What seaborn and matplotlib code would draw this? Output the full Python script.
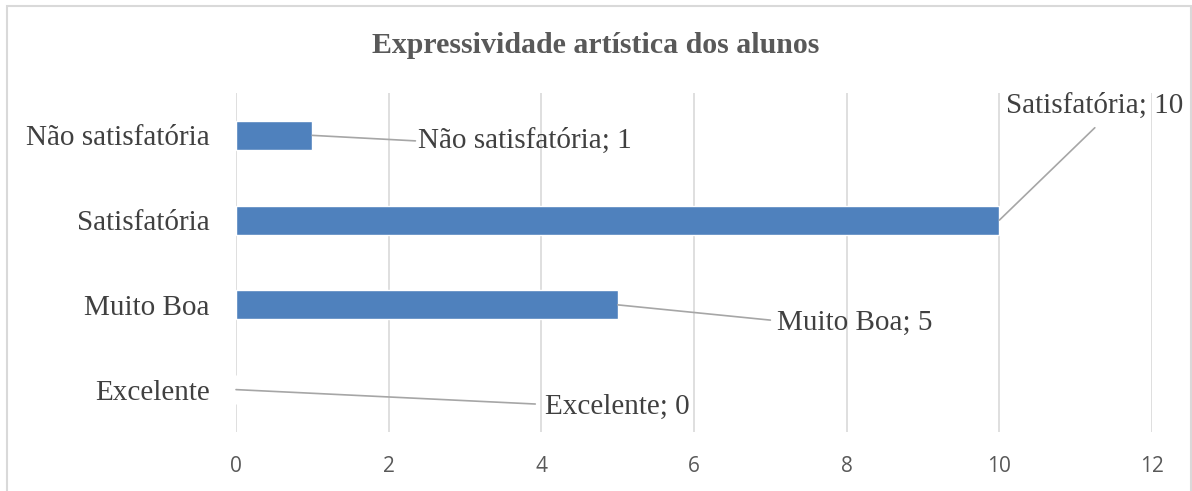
import numpy as np
import pandas as pd
import matplotlib
matplotlib.use("Agg")
import matplotlib.pyplot as plt
import seaborn as sns

categorias = ["Não satisfatória", "Satisfatória", "Muito Boa", "Excelente"]
valores = [1, 10, 5, 0]
x_ticks = [0, 2, 4, 6, 8, 10, 12]
titulo = "Expressividade artística dos alunos"

# callout label centres and leader-line ends (data units, y axis inverted)
label_pos = [(3.79, 0.07), (11.25, -0.35), (8.11, 2.21), (5.0, 3.2)]
label_anchor = [(2.35, 0.065), (11.25, -0.09), (7.0, 2.18), (3.92, 3.17)]

df = pd.DataFrame({"cat": categorias, "val": valores})

sns.set_style("white")
serif = ["Liberation Serif", "DejaVu Serif"]

fig = plt.figure(figsize=(11.92, 4.91), dpi=100)
ax = fig.add_axes([0.198, 0.1202, 0.7685, 0.6904])

sns.barplot(data=df, x="val", y="cat", orient="h", color="#4F81BD",
            width=0.34, saturation=1, ax=ax)

ax.set_xlim(0, 12)
ax.set_xticks(x_ticks)
ax.set_xlabel("")
ax.set_ylabel("")
ax.grid(axis="x", color="#D9D9D9", linewidth=1.2)
ax.set_axisbelow(True)
for s in ax.spines.values():
    s.set_visible(False)
ax.tick_params(axis="both", length=0)
ax.tick_params(axis="x", pad=17, labelsize=15, labelcolor="#595959")
for t in ax.get_xticklabels():
    t.set_family("Open Sans")
ax.tick_params(axis="y", pad=19)
for t in ax.get_yticklabels():
    t.set_family(serif)
    t.set_fontsize(21)
    t.set_color("#404040")

for i, (c, v) in enumerate(zip(categorias, valores)):
    ax.annotate("", xy=(v, i), xytext=label_anchor[i],
                arrowprops=dict(arrowstyle="-", color="#A6A6A6", lw=1.2,
                                shrinkA=0, shrinkB=0))
    ax.text(label_pos[i][0], label_pos[i][1], f"{c}; {v}", family=serif,
            fontsize=21, color="#404040", ha="center", va="center")

fig.text(0.5, 0.908, titulo, family=serif, fontsize=21.5, fontweight="bold",
         color="#595959", ha="center", va="center")

# outer chart border
border = plt.Rectangle((7 / 1192, -0.05), 1184 / 1192, 1 - 6 / 491 + 0.05,
                       transform=fig.transFigure, fill=False,
                       edgecolor="#D9D9D9", linewidth=1.5)
fig.patches.append(border)

fig.savefig("out.png", dpi=100)
